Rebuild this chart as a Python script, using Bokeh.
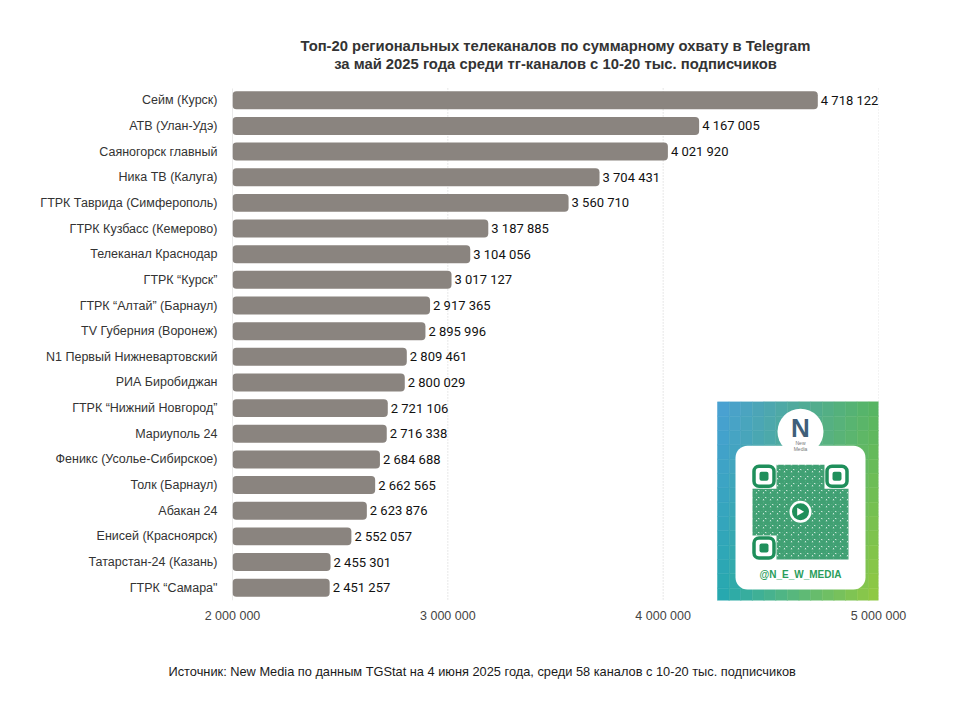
from bokeh.plotting import figure
from bokeh.models import Range1d, FixedTicker, Title
from bokeh.core.properties import value
from bokeh.embed import file_html
from bokeh.resources import INLINE

channels = [
    "Сейм (Курск)", "АТВ (Улан-Удэ)", "Саяногорск главный", "Ника ТВ (Калуга)",
    "ГТРК Таврида (Симферополь)", "ГТРК Кузбасс (Кемерово)", "Телеканал Краснодар",
    "ГТРК “Курск”", "ГТРК “Алтай” (Барнаул)", "TV Губерния (Воронеж)",
    "N1 Первый Нижневартовский", "РИА Биробиджан", "ГТРК “Нижний Новгород”",
    "Мариуполь 24", "Феникс (Усолье-Сибирское)", "Толк (Барнаул)", "Абакан 24",
    "Енисей (Красноярск)", "Татарстан-24 (Казань)", "ГТРК “Самара\"",
]
reach = [
    4718122, 4167005, 4021920, 3704431, 3560710, 3187885, 3104056, 3017127,
    2917365, 2895996, 2809461, 2800029, 2721106, 2716338, 2684688, 2662565,
    2623876, 2552057, 2455301, 2451257,
]
x_ticks = [2000000, 3000000, 4000000, 5000000]
x_tick_labels = ["2 000 000", "3 000 000", "4 000 000", "5 000 000"]

title_lines = [
    "Топ-20 региональных телеканалов по суммарному охвату в Telegram",
    "за май 2025 года среди тг-каналов с 10-20 тыс. подписчиков",
]
source = "Источник: New Media по данным TGStat на 4 июня 2025 года, среди 58 каналов с 10-20 тыс. подписчиков"

rows = list(range(len(channels)))
value_labels = [f"{v:,}".replace(",", " ") for v in reach]

FONT = "Liberation Sans"
NARROW = "Roboto"

# frame: x 232..878 px, y 10..601 px (23 rows of 25.7 px; top 3 rows hold the title)
p = figure(width=960, height=714, output_backend="svg", toolbar_location=None,
           x_range=Range1d(2000000, 5000000), y_range=Range1d(19.5, -3.5),
           min_border_left=232, min_border_right=82, min_border_top=10,
           min_border_bottom=113, outline_line_color=None)
p.background_fill_color = "white"
p.border_fill_color = "white"


def X(px):
    return 2000000 + (px - 232) * 3e6 / 646


def Y(py):
    return (py - 87) / 25.7 - 0.5


# source line below the axis
p.add_layout(Title(text=source, align="left", offset=-64, text_font=FONT,
                   text_font_style="normal", text_font_size="12.8px",
                   text_color="#1a1a1a", standoff=72), "below")

# axes
p.xaxis.ticker = FixedTicker(ticks=x_ticks)
p.xaxis.major_label_overrides = {t: l for t, l in zip(x_ticks, x_tick_labels)}
p.xaxis.axis_line_color = None
p.xaxis.major_tick_line_color = None
p.xaxis.major_tick_out = 0
p.xaxis.major_tick_in = 0
p.xaxis.minor_tick_line_color = None
p.xaxis.major_label_text_font = FONT
p.xaxis.major_label_text_font_size = "12.5px"
p.xaxis.major_label_text_color = "#444444"
p.xaxis.major_label_standoff = 8

p.yaxis.ticker = FixedTicker(ticks=rows)
p.yaxis.major_label_overrides = {i: c for i, c in zip(rows, channels)}
p.yaxis.axis_line_color = None
p.yaxis.major_tick_line_color = None
p.yaxis.major_tick_out = 0
p.yaxis.major_tick_in = 0
p.yaxis.minor_tick_line_color = None
p.yaxis.major_label_text_font = FONT
p.yaxis.major_label_text_font_size = "12.5px"
p.yaxis.major_label_text_color = "#333333"
p.yaxis.major_label_standoff = 15

p.xgrid.grid_line_color = None
p.ygrid.grid_line_color = None

# axis line and dotted grid lines limited to the bar area
p.segment(x0=x_ticks[1:], x1=x_ticks[1:], y0=[Y(88)] * 3, y1=[19.5] * 3,
          line_color="#cfcfcf", line_dash="1 2", line_width=1)
p.segment(x0=[x_ticks[0]], x1=[x_ticks[0]], y0=[Y(88)], y1=[19.5],
          line_color="#d6d6d6", line_width=1)

# title
p.text(x=[X(555)] * 2, y=[Y(45), Y(63)], text=title_lines, text_align="center",
       text_baseline="middle", text_font=value(FONT), text_font_style="bold",
       text_font_size="14.8px", text_color="#333333")

# bars
p.hbar(y=rows, left=x_ticks[0], right=reach, height=0.7,
       fill_color="#8a847f", line_color=None, border_radius=4)
p.text(x=reach, y=rows, text=value_labels, x_offset=3,
       text_baseline="middle", text_align="left",
       text_font=value(NARROW), text_font_size="13px",
       text_color="#111111")

# ---- decorative QR badge ----
def mix(c1, c2, t):
    return tuple(a + (b - a) * t for a, b in zip(c1, c2))

TL, TR, BL, BR = (74, 160, 215), (86, 182, 96), (34, 168, 178), (150, 203, 62)
x0, x1, y0, y1 = 717, 880, 402, 603
n = 14
L, R, T, B, C = [], [], [], [], []
for i in range(n):
    for j in range(n):
        u = (i + 0.5) / n
        v = (j + 0.5) / n
        c = mix(mix(TL, TR, u), mix(BL, BR, u), v)
        L.append(X(x0 + (x1 - x0) * i / n))
        R.append(X(x0 + (x1 - x0) * (i + 1) / n))
        T.append(Y(y0 + (y1 - y0) * j / n))
        B.append(Y(y0 + (y1 - y0) * (j + 1) / n))
        C.append("#%02x%02x%02x" % tuple(int(k) for k in c))
p.quad(left=L, right=R, top=T, bottom=B, fill_color=C, line_color=C, line_width=0.5)

p.quad(left=[X(735)], right=[X(865)], top=[Y(446)], bottom=[Y(590)],
       fill_color="white", line_color=None, border_radius=12)
p.scatter(x=[X(800)], y=[Y(432)], size=46, marker="circle",
          fill_color="white", line_color=None)
p.text(x=[X(800)], y=[Y(428)], text=["N"], text_align="center", text_baseline="middle",
       text_font=value(FONT), text_font_style="bold", text_font_size="26px",
       text_color="#3f5f7a")
p.text(x=[X(800)], y=[Y(446)], text=["New\nMedia"], text_align="center",
       text_baseline="middle", text_font=value(FONT), text_font_size="5px",
       text_color="#777777", text_line_height=1.0)

G = "#1f8f5b"
p.quad(left=[X(752)], right=[X(848)], top=[Y(465)], bottom=[Y(560)],
       fill_color="white", line_color=None, hatch_pattern="criss_cross",
       hatch_color=G, hatch_scale=7, hatch_weight=2.5, hatch_alpha=0.85)
for (fx, fy) in [(752, 465), (825, 465), (752, 537)]:
    p.quad(left=[X(fx - 1)], right=[X(fx + 24)], top=[Y(fy - 1)], bottom=[Y(fy + 24)],
           fill_color="white", line_color=None)
    p.quad(left=[X(fx + 1.5)], right=[X(fx + 21.5)], top=[Y(fy + 1.5)], bottom=[Y(fy + 21.5)],
           fill_color=None, line_color=G, line_width=3.5, border_radius=5)
    p.quad(left=[X(fx + 7)], right=[X(fx + 16)], top=[Y(fy + 7)], bottom=[Y(fy + 16)],
           fill_color=G, line_color=None, border_radius=2)
p.scatter(x=[X(800)], y=[Y(512)], size=22, marker="circle", fill_color="white", line_color=None)
p.scatter(x=[X(800)], y=[Y(512)], size=17, marker="circle", fill_color=G, line_color=None)
p.scatter(x=[X(799)], y=[Y(512)], size=8, marker="triangle", angle=-1.57,
          fill_color="white", line_color=None)
p.text(x=[X(800)], y=[Y(575)], text=["@N_E_W_MEDIA"], text_align="center",
       text_baseline="middle", text_font=value(FONT), text_font_style="bold",
       text_font_size="10px", text_color="#2a9d5c")

open("out.html", "w").write(file_html(p, INLINE))
